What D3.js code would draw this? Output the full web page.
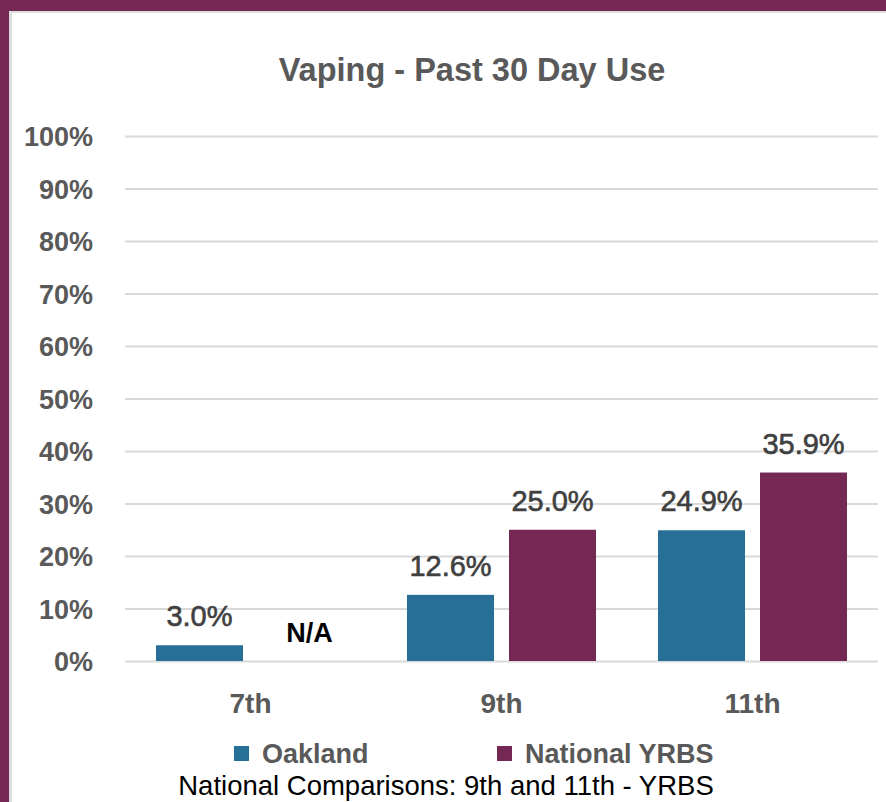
<!DOCTYPE html>
<html>
<head>
<meta charset="utf-8">
<script src="https://cdn.jsdelivr.net/npm/d3@7"></script>
<style>
  html, body { margin: 0; padding: 0; background: #ffffff; }
  svg { display: block; }
</style>
</head>
<body>
<svg id="chart" width="886" height="802"></svg>
<script>
const categories = ["7th", "9th", "11th"];
const seriesNames = ["Oakland", "National YRBS"];
const oakland = [3.0, 12.6, 24.9];
const national = [null, 25.0, 35.9];
const yTicks = [0, 10, 20, 30, 40, 50, 60, 70, 80, 90, 100];
const title = "Vaping - Past 30 Day Use";
const footnote = "National Comparisons: 9th and 11th - YRBS";
const naLabel = "N/A";

const colors = { "Oakland": "#276f96", "National YRBS": "#742853" };
const FONT = "'Liberation Sans', Arial, sans-serif";

const svg = d3.select("#chart");
const W = 886, H = 802;

// frame
svg.append("rect").attr("x", 0).attr("y", 0).attr("width", W).attr("height", H).attr("fill", "#742853");
svg.append("rect").attr("x", 9).attr("y", 11).attr("width", W - 9).attr("height", H - 11).attr("fill", "#dcdcdc");
svg.append("rect").attr("x", 12).attr("y", 13).attr("width", W - 12).attr("height", H - 13).attr("fill", "#ffffff");

const plot = { left: 125, right: 878, top: 136, bottom: 661 };

const y = d3.scaleLinear().domain([0, 100]).range([plot.bottom, plot.top]);
const x0 = d3.scaleBand().domain(categories).range([plot.left, plot.right]).paddingInner(0).paddingOuter(0);
const x1 = d3.scaleBand().domain(seriesNames).range([31, 220]).paddingInner(0.147).paddingOuter(0);

// gridlines via axis
const yAxis = d3.axisLeft(y).tickValues(yTicks).tickSize(-(plot.right - plot.left)).tickFormat(d => d + "%").tickPadding(32);
const gy = svg.append("g").attr("transform", `translate(${plot.left},0)`).call(yAxis);
gy.select(".domain").remove();
gy.selectAll(".tick line").attr("stroke", "#d9d9d9").attr("stroke-width", 2);
gy.selectAll(".tick text")
  .attr("fill", "#595959").attr("font-family", FONT).attr("font-weight", "bold").attr("font-size", 27)
  .attr("dy", "0.36em");

// x axis labels
const xAxis = d3.axisBottom(x0).tickSize(0).tickPadding(32);
const gx = svg.append("g").attr("transform", `translate(0,${plot.bottom})`).call(xAxis);
gx.select(".domain").remove();
gx.selectAll(".tick text")
  .attr("fill", "#595959").attr("font-family", FONT).attr("font-weight", "bold").attr("font-size", 28)
  .attr("dy", "0.71em");

// bars
const rows = categories.map((c, i) => ({ cat: c, vals: [
  { name: "Oakland", v: oakland[i] },
  { name: "National YRBS", v: national[i] }
]}));

const groups = svg.append("g").selectAll("g").data(rows).join("g")
  .attr("transform", d => `translate(${x0(d.cat)},0)`);

groups.selectAll("rect").data(d => d.vals.filter(v => v.v != null)).join("rect")
  .attr("x", d => x1(d.name))
  .attr("width", x1.bandwidth())
  .attr("y", d => y(d.v))
  .attr("height", d => y(0) - y(d.v))
  .attr("fill", d => colors[d.name]);

groups.selectAll("text.val").data(d => d.vals).join("text")
  .attr("class", "val")
  .attr("x", d => x1(d.name) + x1.bandwidth() / 2)
  .attr("y", d => d.v != null ? y(d.v) - 19 : y(0) - 19)
  .attr("text-anchor", "middle")
  .attr("font-family", FONT)
  .attr("font-size", d => d.v != null ? 29 : 27)
  .attr("font-weight", d => d.v != null ? "normal" : "bold")
  .attr("fill", d => d.v != null ? "#404040" : "#000000")
  .attr("stroke", d => d.v != null ? "#404040" : "none")
  .attr("stroke-width", 0.6)
  .attr("dx", d => d.v != null ? 0 : 8)
  .text(d => d.v != null ? d.v.toFixed(1) + "%" : naLabel);

// title
svg.append("text").attr("x", 472).attr("y", 81).attr("text-anchor", "middle")
  .attr("font-family", FONT).attr("font-weight", "bold").attr("font-size", 32.5).attr("fill", "#595959")
  .text(title);

// legend
const legendX = { "Oakland": 234, "National YRBS": 497 };
const lg = svg.append("g").selectAll("g").data(seriesNames).join("g")
  .attr("transform", d => `translate(${legendX[d]},746)`);
lg.append("rect").attr("width", 15).attr("height", 15).attr("fill", d => colors[d]);
lg.append("text").attr("x", 28).attr("y", 17)
  .attr("font-family", FONT).attr("font-weight", "bold").attr("font-size", 27).attr("fill", "#595959")
  .text(d => d);

// footnote
svg.append("text").attr("x", 446).attr("y", 795).attr("text-anchor", "middle")
  .attr("font-family", FONT).attr("font-size", 27.5).attr("fill", "#000000")
  .text(footnote);
</script>
</body>
</html>
